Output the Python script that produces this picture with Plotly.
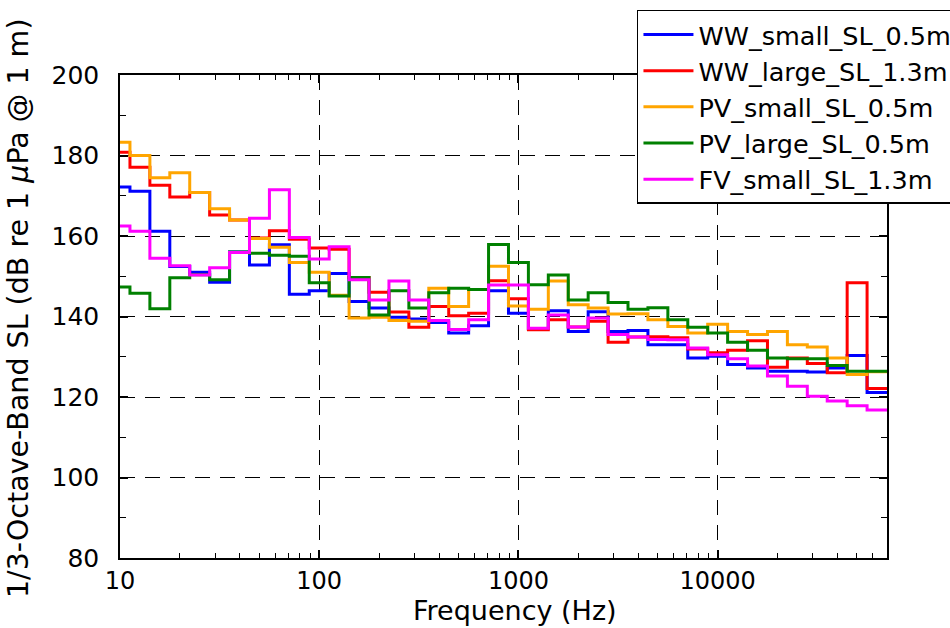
import math
import plotly.graph_objects as go

# 1/3-octave band centre frequencies (Hz)
bands = [10, 12.5, 16, 20, 25, 31.5, 40, 50, 63, 80, 100, 125, 160, 200, 250, 315,
         400, 500, 630, 800, 1000, 1250, 1600, 2000, 2500, 3150, 4000, 5000, 6300,
         8000, 10000, 12500, 16000, 20000, 25000, 31500, 40000, 50000, 63000]

ww_small_05 = [172.2, 171.1, 161.2, 152.4, 151.0, 148.5, 156.0, 152.8, 157.8, 145.5,
               146.4, 150.7, 143.7, 142.1, 139.8, 139.4, 138.5, 135.9, 137.7, 146.4,
               140.8, 137.0, 141.4, 136.3, 141.2, 136.3, 136.5, 133.0, 133.0, 129.7,
               130.1, 128.1, 127.2, 126.4, 126.4, 126.2, 127.2, 130.3, 121.1]
ww_large_13 = [180.8, 177.1, 172.6, 169.7, 170.8, 165.2, 164.0, 159.5, 161.3, 159.2,
               157.0, 156.7, 149.7, 146.0, 141.1, 137.3, 142.5, 140.2, 140.8, 148.9,
               144.4, 136.7, 139.2, 137.4, 138.8, 133.6, 134.9, 135.0, 134.7, 131.9,
               131.0, 131.6, 134.0, 127.4, 129.7, 128.3, 126.0, 148.4, 122.1]
pv_small_05 = [183.3, 180.0, 174.5, 175.7, 170.8, 166.8, 164.0, 159.4, 157.2, 153.4,
               151.0, 145.3, 139.6, 139.8, 139.0, 138.8, 147.0, 142.5, 146.7, 152.5,
               142.6, 141.8, 148.8, 142.9, 142.1, 140.6, 140.7, 139.2, 137.5, 135.9,
               138.1, 136.3, 135.5, 136.3, 133.0, 132.4, 129.7, 125.6, 126.3]
pv_large_05 = [147.3, 145.8, 141.9, 149.6, 150.4, 149.1, 156.0, 155.7, 155.2, 155.0,
               148.4, 145.1, 149.7, 140.4, 146.4, 142.1, 145.9, 147.0, 146.7, 157.9,
               153.4, 147.9, 150.3, 144.1, 145.9, 143.5, 141.8, 142.2, 139.2, 137.3,
               135.9, 133.6, 131.6, 129.7, 129.5, 129.5, 127.8, 126.4, 126.4]
fv_small_13 = [162.5, 161.2, 154.5, 152.6, 150.3, 152.1, 155.9, 164.4, 171.5, 159.6,
               154.3, 157.3, 149.1, 144.1, 148.8, 144.1, 139.0, 136.8, 139.2, 147.8,
               147.8, 137.1, 140.4, 137.4, 139.6, 135.5, 134.9, 134.3, 134.2, 132.2,
               130.5, 129.5, 127.7, 125.2, 122.7, 120.2, 119.0, 117.8, 116.8]

series_names = ["WW_small_SL_0.5m", "WW_large_SL_1.3m", "PV_small_SL_0.5m",
                "PV_large_SL_0.5m", "FV_small_SL_1.3m"]
series_values = [ww_small_05, ww_large_13, pv_small_05, pv_large_05, fv_small_13]
series_colors = ["#0000FF", "#FF0000", "#FFA500", "#008000", "#FF00FF"]

x_tick_vals = [10, 100, 1000, 10000]
x_tick_text = ["10", "100", "1000", "10000"]
y_tick_vals = [80, 100, 120, 140, 160, 180, 200]

# band index (base-10 preferred numbers) -> exact band edges
idx = [round(10 * math.log10(f)) for f in bands]
edges = [10 ** ((n - 0.5) / 10) for n in idx] + [10 ** ((idx[-1] + 0.5) / 10)]

FONT = "DejaVu Sans"

fig = go.Figure()
for name, vals, col in zip(series_names, series_values, series_colors):
    fig.add_trace(go.Scatter(
        x=edges, y=list(vals) + [vals[-1]], mode="lines", name=name,
        line=dict(color=col, width=3, shape="hv"), legendgroup=name,
    ))

minor_x = [d * 10 ** e for e in range(1, 5) for d in range(2, 10)]

fig.update_layout(
    width=950, height=628,
    margin=dict(l=120, r=63, t=75, b=70, autoexpand=False),
    paper_bgcolor="white", plot_bgcolor="white",
    font=dict(family=FONT, size=24, color="black"),
    showlegend=True,
    legend=dict(
        x=0.674, y=1.1346, xanchor="left", yanchor="top",
        bgcolor="white", bordercolor="black", borderwidth=1.5,
        font=dict(family=FONT, size=25.5, color="black"),
        traceorder="grouped", tracegroupgap=0, itemwidth=50,
    ),
    xaxis=dict(
        type="log", range=[1, math.log10(edges[-1])],
        tickmode="array", tickvals=x_tick_vals, ticktext=x_tick_text,
        ticks="inside", ticklen=8, tickwidth=1.5, tickcolor="black",
        showline=True, linecolor="black", linewidth=1.5, mirror="allticks",
        showgrid=True, gridcolor="black", gridwidth=1.2, griddash="15px,10px",
        zeroline=False,
        tickfont=dict(family=FONT, size=24),
        ticklabelstandoff=0,
        minor=dict(tickmode="array", tickvals=minor_x, ticks="inside", ticklen=5,
                   tickwidth=1, tickcolor="black", showgrid=False),
    ),
    yaxis=dict(
        range=[80, 200], tickmode="array", tickvals=y_tick_vals,
        ticks="inside", ticklen=8, tickwidth=1.5, tickcolor="black",
        showline=True, linecolor="black", linewidth=1.5, mirror="allticks",
        showgrid=True, gridcolor="black", gridwidth=1.2, griddash="15px,10px",
        zeroline=False,
        tickfont=dict(family=FONT, size=25),
        ticklabelstandoff=14,
        minor=dict(dtick=10, ticks="inside", ticklen=6, tickwidth=1,
                   tickcolor="black", showgrid=False),
    ),
    annotations=[
        dict(
            text="1/3-Octave-Band SL (dB re 1 <i>μ</i>Pa @ 1 m)",
            textangle=-90, xref="paper", yref="paper",
            x=-0.133, y=-0.087, xanchor="center", yanchor="bottom",
            showarrow=False, font=dict(family=FONT, size=28.5, color="black"),
        ),
        dict(
            text="Frequency (Hz)", xref="paper", yref="paper",
            x=0.515, y=-0.109, xanchor="center", yanchor="middle",
            showarrow=False, font=dict(family=FONT, size=27, color="black"),
        ),
    ],
)

fig.write_html("out.html")
